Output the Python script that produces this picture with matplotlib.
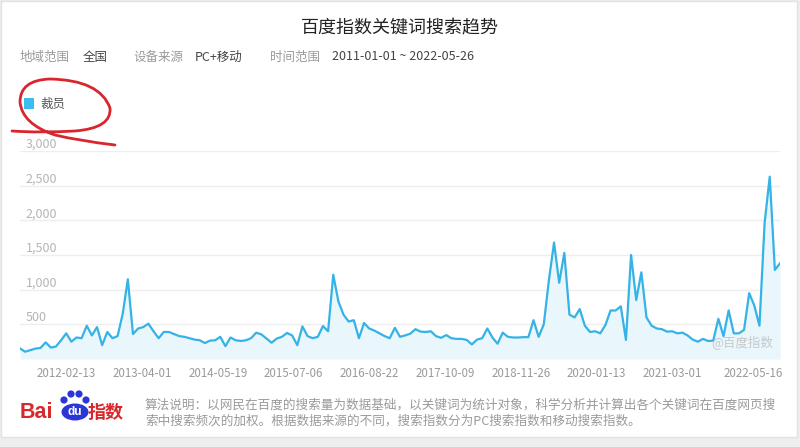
import matplotlib.pyplot as plt
import numpy as np
import pandas as pd
from matplotlib.patches import Rectangle, Circle, Ellipse, PathPatch
from matplotlib.path import Path

plt.rcParams['font.family'] = ['Noto Sans CJK SC', 'DejaVu Sans']

# 百度指数 "裁员" 周数据（每4周取一个点，从图上读出）
keyword = "裁员"
values = [152, 105, 128, 150, 160, 240, 165, 180, 270, 370,
          250, 310, 300, 480, 340, 460, 200, 390, 300, 330,
          650, 1150, 360, 440, 460, 510, 400, 300, 390, 390,
          360, 330, 320, 300, 280, 270, 230, 265, 270, 320,
          185, 310, 270, 260, 270, 300, 380, 355, 295, 235,
          295, 320, 375, 340, 200, 470, 330, 300, 320, 475,
          400, 1215, 830, 640, 540, 560, 300, 520, 440, 410,
          370, 330, 300, 450, 320, 340, 365, 430, 395, 390,
          400, 330, 305, 345, 300, 290, 290, 275, 210, 280,
          300, 440, 310, 220, 380, 320, 310, 310, 315, 315,
          560, 320, 500, 1140, 1680, 1100, 1530, 640, 600, 720,
          480, 390, 400, 370, 490, 700, 700, 760, 275, 1500,
          850, 1250, 600, 480, 440, 430, 395, 400, 370, 380,
          340, 280, 250, 290, 260, 265, 580, 330, 700, 370,
          370, 420, 950, 770, 480, 1960, 2630, 1285, 1380]
step_weeks = 4
start_date = "2011-06-06"

tick_dates = ["2012-02-13", "2013-04-01", "2014-05-19", "2015-07-06", "2016-08-22",
              "2017-10-09", "2018-11-26", "2020-01-13", "2021-03-01", "2022-05-16"]
y_ticks = [500, 1000, 1500, 2000, 2500, 3000]

title = "百度指数关键词搜索趋势"
info = [("地域范围", "全国"), ("设备来源", "PC+移动"), ("时间范围", "2011-01-01 ~ 2022-05-26")]
note_lines = ["算法说明：以网民在百度的搜索量为数据基础，以关键词为统计对象，科学分析并计算出各个关键词在百度网页搜",
              "索中搜索频次的加权。根据数据来源的不同，搜索指数分为PC搜索指数和移动搜索指数。"]

LINE = "#35b2e6"
W, H = 800, 447

fig = plt.figure(figsize=(8, 4.47), dpi=100)
fig.patch.set_facecolor("#eeeeee")

# 整体叠加层（像素坐标，y 向下）
ov = fig.add_axes([0, 0, 1, 1], zorder=3)
ov.set_xlim(0, W)
ov.set_ylim(H, 0)
ov.axis("off")
ov.patch.set_alpha(0)

card = Rectangle((1, 1), 796, 436, facecolor="white", edgecolor="#e2e2e2", lw=1,
                 transform=ov.transData, zorder=-5)
fig.add_artist(card)

# 主图
ax = fig.add_axes([20 / W, (H - 359) / H, 760 / W, 208 / H], zorder=1)
ax.patch.set_alpha(0)
weeks = np.arange(len(values)) * step_weeks
ax.fill_between(weeks, values, 0, color="#e9f6fc", lw=0)
ax.plot(weeks, values, color=LINE, lw=1.6, solid_joinstyle="round")
ax.set_xlim(0, weeks[-1])
ax.set_ylim(0, 3000)

t0 = pd.Timestamp(start_date)
tick_pos = [(pd.Timestamp(d) - t0).days / 7 for d in tick_dates]
ax.set_xticks(tick_pos)
ax.set_xticklabels(tick_dates)
ax.set_yticks(y_ticks)
ax.set_yticklabels([f"{v:,}" for v in y_ticks])
ax.tick_params(axis="x", length=0, pad=6, labelsize=8.3, labelcolor="#9a9a9a")
ax.tick_params(axis="y", length=0, pad=-4, labelsize=9, labelcolor="#b5b5b5")
for t in ax.yaxis.get_major_ticks():
    t.label1.set_horizontalalignment("left")
    t.label1.set_verticalalignment("bottom")
ax.grid(axis="y", color="#eeeeee", lw=1)
ax.set_axisbelow(True)
for s in ax.spines.values():
    s.set_visible(False)

# 标题与信息行
ov.text(400, 28, title, ha="center", va="center", fontsize=13, color="#222222")
xs = [(20, 83), (133, 195), (270, 332)]
for (lab, val), (x1, x2) in zip(info, xs):
    ov.text(x1, 57, lab, ha="left", va="center", fontsize=9, color="#9a9a9a")
    ov.text(x2, 57, val, ha="left", va="center", fontsize=9, color="#444444")

# 图例
ov.add_patch(Rectangle((24, 98), 10, 11, facecolor="#3cbdee", lw=0))
ov.text(40, 104, keyword, ha="left", va="center", fontsize=9, color="#555555")

# 水印
ov.text(711, 343, "@百度指数", ha="left", va="center", fontsize=9, color="#c8c8c8")

# 百度指数 logo
red = "#d8282c"
blue = "#2b36d8"
ov.text(20, 413, "Bai", ha="left", va="center", fontsize=15.5, fontweight="bold",
        color=red, family=["Liberation Sans", "DejaVu Sans"])
for cx, cy in [(64, 400), (71, 394), (79, 394), (86, 400)]:
    ov.add_patch(Circle((cx, cy), 3.6, facecolor=blue, lw=0))
ov.add_patch(Ellipse((75, 412), 27, 17, facecolor=blue, lw=0))
ov.text(75, 412, "du", ha="center", va="center", fontsize=8.5, fontweight="bold",
        color="white", family=["Liberation Sans", "DejaVu Sans"])
ov.text(88, 412, "指数", ha="left", va="center", fontsize=13, fontweight="bold", color=red)

# 算法说明
ov.text(145, 405, note_lines[0], ha="left", va="center", fontsize=9.08, color="#9a9a9a")
ov.text(145, 421, note_lines[1], ha="left", va="center", fontsize=9.08, color="#9a9a9a")

# 红色手绘圈
verts = [(115, 145), (80, 141), (55, 135), (22, 124), (20, 102), (20, 80), (50, 79),
         (100, 80), (110, 108), (112, 128), (75, 131), (40, 133), (12, 131)]
codes = [Path.MOVETO] + [Path.CURVE3] * 12
ov.add_patch(PathPatch(Path(verts, codes), facecolor="none", edgecolor="#d9262e",
                       lw=2, capstyle="round", joinstyle="round"))

fig.savefig("out.png", dpi=100, facecolor=fig.get_facecolor())
